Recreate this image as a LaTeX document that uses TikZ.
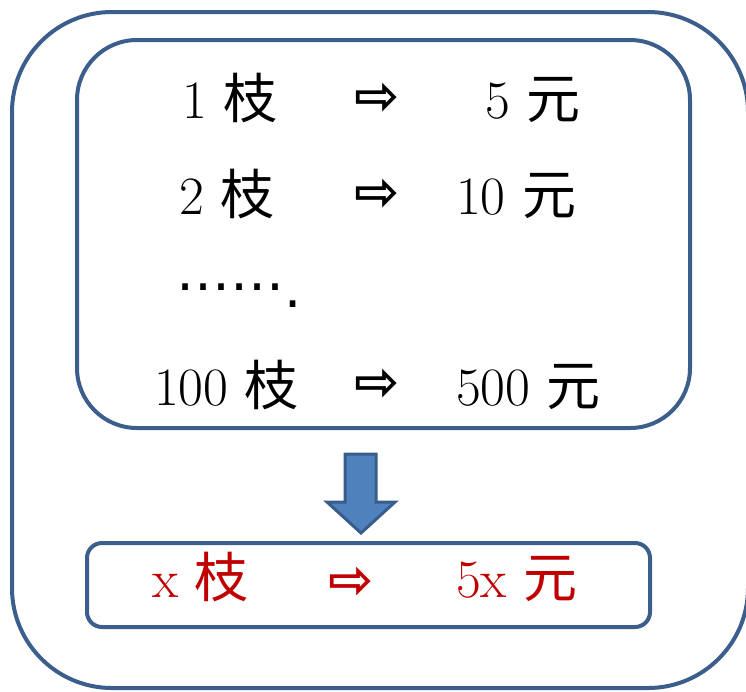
\documentclass[tikz,border=0pt]{standalone}
\usepackage{fontspec}
\newfontfamily\cjk{Noto Sans CJK TC}
\newfontfamily\arrowfont{DejaVu Sans}
\definecolor{boxblue}{HTML}{3B5E8C}
\definecolor{arrowfill}{HTML}{4F81BD}
\definecolor{arrowline}{HTML}{385D8A}
\definecolor{darkred}{HTML}{C00000}

\tikzset{
  roundbox/.style={draw=boxblue, line width=4pt},
  lbl/.style={anchor=base west, inner sep=0pt, font=\fontsize{54}{60}\selectfont},
  arr/.style={anchor=center, inner sep=0pt, font=\arrowfont\bfseries\fontsize{54}{60}\selectfont},
}

\begin{document}
\begin{tikzpicture}[x=1pt,y=-1pt]
		\useasboundingbox (0,0) rectangle (746,691);
		%draw boxes
		\draw [roundbox, rounded corners=100pt] (12,12) rectangle (748,688);
		\draw [roundbox, rounded corners=60pt] (77,40) rectangle (690,428);
		\draw [roundbox, rounded corners=15pt] (87,543) rectangle (650,627);
		%draw table rows
		\node [lbl] (one) at (182,118) {1 {\cjk 枝}};
		\node [arr] (arrA) at (377,99) {⇨};
		\node [lbl] (five) at (485,118) {5 {\cjk 元}};
		\node [lbl] (two) at (179,214) {2 {\cjk 枝}};
		\node [arr] (arrB) at (377,195) {⇨};
		\node [lbl] (ten) at (456,214) {10 {\cjk 元}};
		\node [lbl, font=\arrowfont\fontsize{54}{60}\selectfont] (dots) at (176,307) {\raisebox{17pt}{……}.};
		\node [lbl] (hundred) at (154,405) {100 {\cjk 枝}};
		\node [arr] (arrC) at (377,385) {⇨};
		\node [lbl] (fivehundred) at (456,405) {500 {\cjk 元}};
		%draw down arrow
		\draw [fill=arrowfill, draw=arrowline, line width=3pt, line join=miter]
		(345,454) -- (376,454) -- (376,502) -- (395,502) -- (361,533)
		-- (327,502) -- (345,502) -- cycle;
		%draw result row
		\node [lbl, text=darkred] (xpens) at (152,597) {x {\cjk 枝}};
		\node [arr, text=darkred] (arrD) at (351,583) {⇨};
		\node [lbl, text=darkred] (fivex) at (456,597) {5x {\cjk 元}};
	\end{tikzpicture}
\end{document}
